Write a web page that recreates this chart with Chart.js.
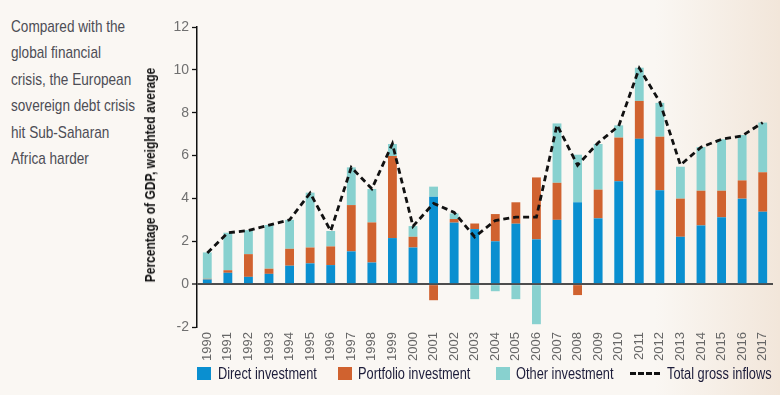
<!DOCTYPE html>
<html>
<head>
<meta charset="utf-8">
<script src="https://cdn.jsdelivr.net/npm/chart.js@4/dist/chart.umd.min.js"></script>
<style>
  html, body { margin: 0; padding: 0; }
  body {
    width: 780px; height: 395px; overflow: hidden; position: relative;
    background: linear-gradient(to right, #faf7f3 0%, #faf7f3 84%, #f2e6da 100%);
    font-family: "Liberation Sans", Arial, sans-serif;
  }
  #chart { position: absolute; left: 0; top: 0; }
  .narrow { transform-origin: 0 0; transform: scaleX(0.8); white-space: nowrap; }
  #note {
    position: absolute; left: 11px; top: 14px;
    font-size: 17px; line-height: 26.4px; color: #4d4d55;
  }
  #ytitle {
    position: absolute; left: 150px; top: 175px; width: 0; height: 0;
  }
  #ytitle span {
    position: absolute; left: 0; top: 0; white-space: nowrap;
    font-size: 15px; font-weight: bold; color: #111; line-height: 16px;
    transform: translate(-50%, -50%) rotate(-90deg) scaleX(0.8);
    transform-origin: 50% 50%;
  }
  .key { position: absolute; top: 365px; font-size: 16px; color: #1c1c3a; line-height: 18px; }
  .sw { position: absolute; top: 367px; width: 14px; height: 13px; }
  .dash { position: absolute; top: 372px; width: 30px; height: 0; border-top: 3px dashed #111; }
</style>
</head>
<body>
<div id="note" class="narrow">Compared with the<br>global financial<br>crisis, the European<br>sovereign debt crisis<br>hit Sub-Saharan<br>Africa harder</div>
<canvas id="chart" width="780" height="395"></canvas>
<div id="ytitle"><span>Percentage of GDP, weighted average</span></div>
<div class="sw" style="left:197px;background:#0a8fd0"></div><div class="key narrow" style="left:218px">Direct investment</div>
<div class="sw" style="left:338px;background:#d0622f"></div><div class="key narrow" style="left:358px">Portfolio investment</div>
<div class="sw" style="left:496px;background:#88d1cf"></div><div class="key narrow" style="left:516px">Other investment</div>
<div class="dash" style="left:630px"></div><div class="key narrow" style="left:667px">Total gross inflows</div>
<script>
// Capital inflows to Sub-Saharan Africa, % of GDP (weighted average)
var years = ['1990', '1991', '1992', '1993', '1994', '1995', '1996', '1997', '1998', '1999',
  '2000', '2001', '2002', '2003', '2004', '2005', '2006', '2007', '2008', '2009',
  '2010', '2011', '2012', '2013', '2014', '2015', '2016', '2017'];

var directInv = [0.22, 0.53, 0.34, 0.48, 0.86, 0.97, 0.89, 1.53, 1.01, 2.15,
  1.71, 4.08, 2.87, 2.57, 2.0, 2.82, 2.09, 3.0, 3.82, 3.07,
  4.8, 6.78, 4.38, 2.21, 2.74, 3.12, 3.99, 3.38];

var portfolioInv = [0.03, 0.12, 1.06, 0.24, 0.79, 0.74, 0.87, 2.16, 1.87, 3.83,
  0.5, -0.75, 0.17, 0.26, 1.27, 1.0, 2.89, 1.73, -0.51, 1.34,
  2.04, 1.77, 2.5, 1.78, 1.62, 1.24, 0.85, 1.84];

var otherInv = [1.23, 1.75, 1.12, 2.04, 1.35, 2.56, 0.72, 1.76, 1.56, 0.56,
  0.5, 0.47, 0.26, -0.7, -0.33, -0.7, -1.87, 2.77, 2.22, 2.13,
  0.57, 1.55, 1.58, 1.49, 2.04, 2.4, 2.12, 2.32];

var totalInflows = [1.45, 2.4, 2.5, 2.75, 3.0, 4.25, 2.48, 5.45, 4.45, 6.55,
  2.7, 3.77, 3.35, 2.2, 2.97, 3.13, 3.13, 7.43, 5.55, 6.6,
  7.38, 10.08, 8.5, 5.56, 6.39, 6.76, 6.92, 7.54];

var yTicks = [-2, 0, 2, 4, 6, 8, 10, 12];

(function () {
  var FONT = '"Liberation Sans", Arial, sans-serif';

  function bar(label, data, color) {
    return {
      type: 'bar', label: label, data: data, stack: 'inv', order: 2,
      backgroundColor: color, borderWidth: 0,
      barPercentage: 0.43, categoryPercentage: 1
    };
  }

  new Chart(document.getElementById('chart'), {
    data: {
      labels: years,
      datasets: [
        {
          type: 'line', label: 'Total gross inflows', data: totalInflows,
          stack: 'total', order: 1,
          borderColor: '#111', borderWidth: 2.8, borderDash: [6, 4],
          pointRadius: 0, fill: false, tension: 0
        },
        bar('Direct investment', directInv, '#0a8fd0'),
        bar('Portfolio investment', portfolioInv, '#d0622f'),
        bar('Other investment', otherInv, '#88d1cf')
      ]
    },
    options: {
      responsive: false,
      animation: false,
      layout: { padding: { left: 145, right: 7, top: 27, bottom: 0 } },
      plugins: { legend: { display: false }, tooltip: { enabled: false } },
      scales: {
        x: {
          stacked: true,
          offset: true,
          grid: { display: false },
          border: { display: false },
          ticks: {
            autoSkip: false, minRotation: 90, maxRotation: 90, padding: -3,
            color: '#666', font: { family: FONT, size: 13 }
          },
          afterFit: function (s) { s.height = 68; }
        },
        y: {
          stacked: true,
          min: -2, max: 12,
          afterBuildTicks: function (s) { s.ticks = yTicks.map(function (v) { return { value: v }; }); },
          grid: {
            drawOnChartArea: true,
            color: function (c) { return c.tick && c.tick.value === 0 ? '#4d4d4d' : 'rgba(0,0,0,0)'; },
            lineWidth: function (c) { return c.tick && c.tick.value === 0 ? 2 : 1; },
            tickColor: '#111', tickLength: 5, tickWidth: 1.3
          },
          border: { display: true, color: '#111', width: 1.5 },
          ticks: { color: '#707070', padding: 3, font: { family: FONT, size: 14 } },
          afterFit: function (s) { s.width = 52; }
        }
      }
    }
  });
})();
</script>
</body>
</html>
